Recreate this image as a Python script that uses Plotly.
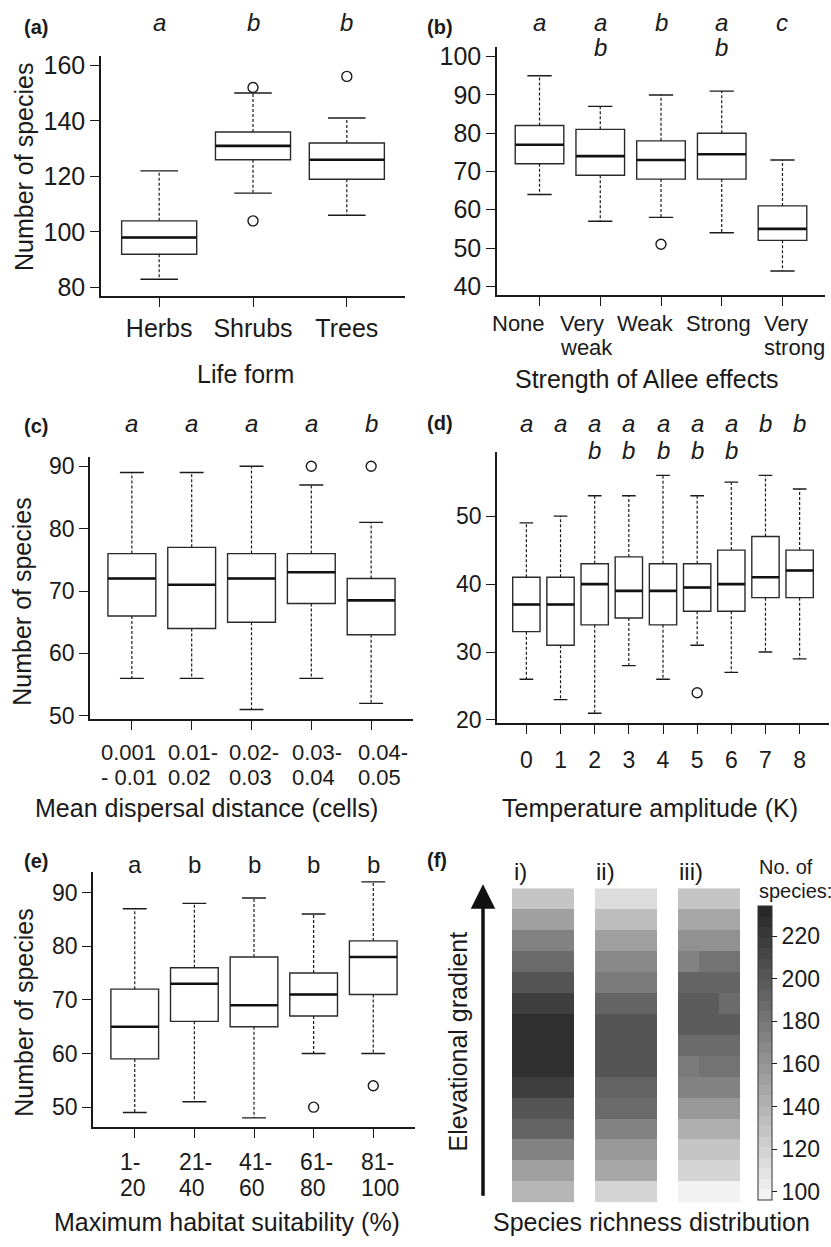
import plotly.graph_objects as go

W, H = 831, 1247
FONT = "Liberation Sans, Arial, sans-serif"
INK = "#1a1a1a"

# ---------------- data ----------------
# (a) Life form
a_labels = ["Herbs", "Shrubs", "Trees"]
a_lower = [83, 114, 106]
a_q1 = [92, 126, 119]
a_med = [98, 131, 126]
a_q3 = [104, 136, 132]
a_upper = [122, 150, 141]
a_out_pos = [2, 2, 3]
a_out_val = [152, 104, 156]
a_letters_1 = ["a", "b", "b"]
a_letters_2 = ["", "", ""]

# (b) Strength of Allee effects
b_labels = ["None", "Very<br>weak", "Weak", "Strong", "Very<br>strong"]
b_lower = [64, 57, 58, 54, 44]
b_q1 = [72, 69, 68, 68, 52]
b_med = [77, 74, 73, 74.5, 55]
b_q3 = [82, 81, 78, 80, 61]
b_upper = [95, 87, 90, 91, 73]
b_out_pos = [3]
b_out_val = [51]
b_letters_1 = ["a", "a", "b", "a", "c"]
b_letters_2 = ["", "b", "", "b", ""]

# (c) Mean dispersal distance
c_labels = ["0.001<br>- 0.01", "0.01-<br>0.02", "0.02-<br>0.03", "0.03-<br>0.04", "0.04-<br>0.05"]
c_lower = [56, 56, 51, 56, 52]
c_q1 = [66, 64, 65, 68, 63]
c_med = [72, 71, 72, 73, 68.5]
c_q3 = [76, 77, 76, 76, 72]
c_upper = [89, 89, 90, 87, 81]
c_out_pos = [4, 5]
c_out_val = [90, 90]
c_letters_1 = ["a", "a", "a", "a", "b"]
c_letters_2 = ["", "", "", "", ""]

# (d) Temperature amplitude
d_labels = ["0", "1", "2", "3", "4", "5", "6", "7", "8"]
d_lower = [26, 23, 21, 28, 26, 31, 27, 30, 29]
d_q1 = [33, 31, 34, 35, 34, 36, 36, 38, 38]
d_med = [37, 37, 40, 39, 39, 39.5, 40, 41, 42]
d_q3 = [41, 41, 43, 44, 43, 43, 45, 47, 45]
d_upper = [49, 50, 53, 53, 56, 53, 55, 56, 54]
d_out_pos = [6]
d_out_val = [24]
d_letters_1 = ["a", "a", "a", "a", "a", "a", "a", "b", "b"]
d_letters_2 = ["", "", "b", "b", "b", "b", "b", "", ""]

# (e) Maximum habitat suitability
e_labels = ["1-<br>20", "21-<br>40", "41-<br>60", "61-<br>80", "81-<br>100"]
e_lower = [49, 51, 48, 60, 60]
e_q1 = [59, 66, 65, 67, 71]
e_med = [65, 73, 69, 71, 78]
e_q3 = [72, 76, 78, 75, 81]
e_upper = [87, 88, 89, 86, 92]
e_out_pos = [4, 5]
e_out_val = [50, 54]
e_letters_1 = ["a", "b", "b", "b", "b"]
e_letters_2 = ["", "", "", "", ""]

# (f) Species richness along the elevational gradient (rows top -> bottom)
f_i = [130, 153, 170, 187, 201, 217, 227, 227, 227, 217, 203, 190, 173, 153, 137]
f_ii = [113, 133, 153, 167, 177, 190, 203, 203, 203, 193, 187, 173, 160, 147, 120]
f_iii_left = [127, 147, 163, 173, 190, 197, 197, 187, 177, 170, 160, 143, 130, 117, 100]
f_iii_mid = [127, 147, 163, 183, 190, 197, 197, 187, 183, 170, 160, 143, 130, 117, 100]
f_iii_right = [127, 147, 163, 183, 190, 187, 197, 187, 183, 170, 160, 143, 130, 117, 100]
f_col_labels = ["i)", "ii)", "iii)"]
f_ticks = [100, 120, 140, 160, 180, 200, 220]

# ---------------- helpers ----------------
def fx(px):
    return px / W


def fy(py):
    return 1 - py / H


def xd(x0, x1):
    return [fx(x0), fx(x1)]


def yd(top, bottom):
    return [fy(bottom), fy(top)]


fig = go.Figure()
annotations = []
TITLE = 25


def add_box_panel(k, labels, lower, q1, med, q3, upper, out_pos, out_val,
                  letters1, letters2, italic, xdom, ydom, xrng, yrng, yticks,
                  xtick_size, ytick_size, standoff, letter_y1, letter_y2,
                  label_left=None, label_rows=None):
    xa = "x" if k == 1 else f"x{k}"
    ya = "y" if k == 1 else f"y{k}"
    n = len(labels)
    pos = list(range(1, n + 1))
    hw = 0.4
    cw = 0.2
    # whiskers (dashed)
    wx, wy = [], []
    for p, lo, a, b, hi in zip(pos, lower, q1, q3, upper):
        wx += [p, p, None, p, p, None]
        wy += [b, hi, None, a, lo, None]
    fig.add_trace(go.Scatter(x=wx, y=wy, mode="lines", xaxis=xa, yaxis=ya,
                             line=dict(color=INK, width=1.2, dash="3px,2px"),
                             showlegend=False, hoverinfo="skip"))
    # box bodies
    fig.add_trace(go.Box(x=pos, q1=q1, median=med, q3=q3, lowerfence=q1,
                         upperfence=q3, width=2 * hw, xaxis=xa, yaxis=ya,
                         fillcolor="white", line=dict(color="#2a2a2a", width=1.4),
                         boxpoints=False, showlegend=False, hoverinfo="skip"))
    # staples
    sx, sy = [], []
    for p, lo, hi in zip(pos, lower, upper):
        sx += [p - cw, p + cw, None, p - cw, p + cw, None]
        sy += [hi, hi, None, lo, lo, None]
    fig.add_trace(go.Scatter(x=sx, y=sy, mode="lines", xaxis=xa, yaxis=ya,
                             line=dict(color=INK, width=1.4),
                             showlegend=False, hoverinfo="skip"))
    # medians (thick)
    mx, my = [], []
    for p, m in zip(pos, med):
        mx += [p - hw, p + hw, None]
        my += [m, m, None]
    fig.add_trace(go.Scatter(x=mx, y=my, mode="lines", xaxis=xa, yaxis=ya,
                             line=dict(color="#111111", width=2.6),
                             showlegend=False, hoverinfo="skip"))
    # outliers
    fig.add_trace(go.Scatter(x=out_pos, y=out_val, mode="markers", xaxis=xa, yaxis=ya,
                             marker=dict(symbol="circle-open", size=10, color=INK,
                                         line=dict(width=1.4)),
                             showlegend=False, hoverinfo="skip"))
    key = "" if k == 1 else str(k)
    fig.layout["xaxis" + key] = dict(
        domain=xdom, range=xrng, anchor=ya, tickmode="array", tickvals=pos,
        ticktext=labels, showticklabels=label_left is None,
        showline=True, linecolor=INK, linewidth=1.5,
        ticks="outside", ticklen=9, tickwidth=1.3, tickcolor=INK, tickangle=0,
        showgrid=False, zeroline=False, fixedrange=True,
        tickfont=dict(size=xtick_size, color=INK, family=FONT),
        ticklabelstandoff=standoff)
    fig.layout["yaxis" + key] = dict(
        domain=ydom, range=yrng, anchor=xa, tickmode="array", tickvals=yticks,
        showline=True, linecolor=INK, linewidth=1.5,
        ticks="outside", ticklen=9, tickwidth=1.3, tickcolor=INK,
        showgrid=False, zeroline=False, fixedrange=True,
        tickfont=dict(size=ytick_size, color=INK, family=FONT))
    # category labels typeset as left-aligned line blocks (as in the source figure)
    if label_left is not None:
        for lab, xl in zip(labels, label_left):
            for line, yy in zip(lab.split("<br>"), label_rows):
                annotations.append(dict(
                    x=fx(xl), y=fy(yy), xref="paper", yref="paper", text=line,
                    showarrow=False, xanchor="left", yanchor="middle",
                    font=dict(size=xtick_size, color=INK, family=FONT)))
    for p, l1, l2 in zip(pos, letters1, letters2):
        for txt_, yy in ((l1, letter_y1), (l2, letter_y2)):
            if txt_:
                annotations.append(dict(
                    x=p, y=fy(yy), xref=xa, yref="paper", showarrow=False,
                    text=f"<i>{txt_}</i>" if italic else txt_,
                    font=dict(size=24, color=INK, family=FONT),
                    xanchor="center", yanchor="middle"))


add_box_panel(1, a_labels, a_lower, a_q1, a_med, a_q3, a_upper, a_out_pos, a_out_val,
              a_letters_1, a_letters_2, True, xd(101, 405), yd(52, 295),
              [0.38, 3.62], [76.8, 163.2], [80, 100, 120, 140, 160], 25, 25, 0, 18, 43)
add_box_panel(2, b_labels, b_lower, b_q1, b_med, b_q3, b_upper, b_out_pos, b_out_val,
              b_letters_1, b_letters_2, True, xd(497, 825), yd(43, 294),
              [0.3, 5.7], [37.6, 102.4], [40, 50, 60, 70, 80, 90, 100], 22, 25, 0, 18, 43,
              label_left=[490, 558, 615, 684, 762], label_rows=[322, 347])
add_box_panel(3, c_labels, c_lower, c_q1, c_med, c_q3, c_upper, c_out_pos, c_out_val,
              c_letters_1, c_letters_2, True, xd(90, 413), yd(457, 723),
              [0.3, 5.7], [49.44, 91.56], [50, 60, 70, 80, 90], 22, 23, 0, 424, 451,
              label_left=[99, 166, 227, 290, 356], label_rows=[757, 782])
add_box_panel(4, d_labels, d_lower, d_q1, d_med, d_q3, d_upper, d_out_pos, d_out_val,
              d_letters_1, d_letters_2, True, xd(497, 829), yd(452, 727),
              [0.14, 9.86], [19.52, 59.5], [20, 30, 40, 50], 23, 23, 6, 424, 451)
add_box_panel(5, e_labels, e_lower, e_q1, e_med, e_q3, e_upper, e_out_pos, e_out_val,
              e_letters_1, e_letters_2, False, xd(93, 415), yd(878, 1136),
              [0.3, 5.7], [46.24, 93.76], [50, 60, 70, 80, 90], 23, 23, 0, 870, 900,
              label_left=[118, 177, 237, 298, 359], label_rows=[1171, 1197])

# ---------------- panel (f): heatmap ----------------
gap = [None] * len(f_i)
cols = [f_i, f_i, f_i, gap, f_ii, f_ii, f_ii, gap, f_iii_left, f_iii_mid, f_iii_right]
z = [[c[r] for c in cols] for r in range(len(f_i))]

cmin, cmax = 96, 234
nb = 28
scale = []
for kband in range(nb):
    t = (kband + 0.5) / nb
    g = int(round(246 - t * (246 - 36)))
    col = f"rgb({g},{g},{g})"
    scale.append([kband / nb, col])
    scale.append([(kband + 1) / nb, col])

fig.add_trace(go.Heatmap(
    z=z, x=list(range(len(cols) + 1)), y=list(range(len(f_i) + 1)),
    xaxis="x6", yaxis="y6", colorscale=scale, zmin=cmin, zmax=cmax,
    hoverinfo="skip",
    colorbar=dict(x=fx(758), xanchor="left", xpad=0, ypad=0,
                  y=fy(1061), yanchor="middle", len=294, lenmode="pixels",
                  thickness=14, thicknessmode="pixels",
                  outlinewidth=1, outlinecolor="#333333",
                  ticks="outside", ticklen=5, tickcolor=INK,
                  tickvals=f_ticks,
                  tickfont=dict(size=23, color=INK, family=FONT))))
fig.layout["xaxis6"] = dict(domain=xd(512, 740), range=[0, len(cols)], anchor="y6",
                            visible=False, fixedrange=True)
fig.layout["yaxis6"] = dict(domain=yd(894, 1212), range=[len(f_i), 0], anchor="x6",
                            visible=False, fixedrange=True)

for lab, xp in zip(f_col_labels, [512, 594, 677]):
    annotations.append(dict(x=fx(xp), y=fy(877), xref="paper", yref="paper",
                            text=lab, showarrow=False, xanchor="left", yanchor="middle",
                            font=dict(size=24, color=INK, family=FONT)))
annotations.append(dict(x=fx(757), y=fy(872), xref="paper", yref="paper", text="No. of",
                        showarrow=False, xanchor="left", yanchor="middle",
                        font=dict(size=20, color=INK, family=FONT)))
annotations.append(dict(x=fx(757), y=fy(897), xref="paper", yref="paper", text="species:",
                        showarrow=False, xanchor="left", yanchor="middle",
                        font=dict(size=20, color=INK, family=FONT)))
# elevational arrow
annotations.append(dict(x=fx(483), y=fy(890), ax=0, ay=1203 - 890,
                        xref="paper", yref="paper", axref="pixel", ayref="pixel",
                        text="", showarrow=True, arrowhead=2, arrowsize=1.4,
                        arrowwidth=3.5, arrowcolor="#111111"))

# ---------------- titles / labels ----------------
def txt(s, x, y, size=TITLE, angle=0, bold=False, anchor="center"):
    annotations.append(dict(x=fx(x), y=fy(y), xref="paper", yref="paper",
                            text=f"<b>{s}</b>" if bold else s, showarrow=False,
                            textangle=angle, xanchor=anchor, yanchor="middle",
                            font=dict(size=size, color=INK, family=FONT)))


for lab, x, y in [("(a)", 22, 22), ("(b)", 425, 22), ("(c)", 22, 426),
                  ("(d)", 425, 423), ("(e)", 22, 866), ("(f)", 425, 865)]:
    txt(lab, x, y, size=20, bold=True, anchor="left")

txt("Number of species", 24, 164, angle=-90)
txt("Number of species", 22, 604, angle=-90)
txt("Number of species", 24, 1020, angle=-90)
txt("Elevational gradient", 458, 1049, angle=-90)
txt("Life form", 245, 373)
txt("Strength of Allee effects", 647, 379)
txt("Mean dispersal distance (cells)", 206, 813)
txt("Temperature amplitude (K)", 650, 813)
txt("Maximum habitat suitability (%)", 227, 1232)
txt("Species richness distribution", 651, 1232)

fig.update_layout(
    width=W, height=H, margin=dict(l=0, r=0, t=0, b=0),
    paper_bgcolor="white", plot_bgcolor="white",
    font=dict(family=FONT, color=INK), annotations=annotations,
    showlegend=False)

fig.write_html("out.html", config={"displayModeBar": False},
               post_script="document.body.style.margin='0px';"
                           "document.documentElement.style.overflow='hidden';")
